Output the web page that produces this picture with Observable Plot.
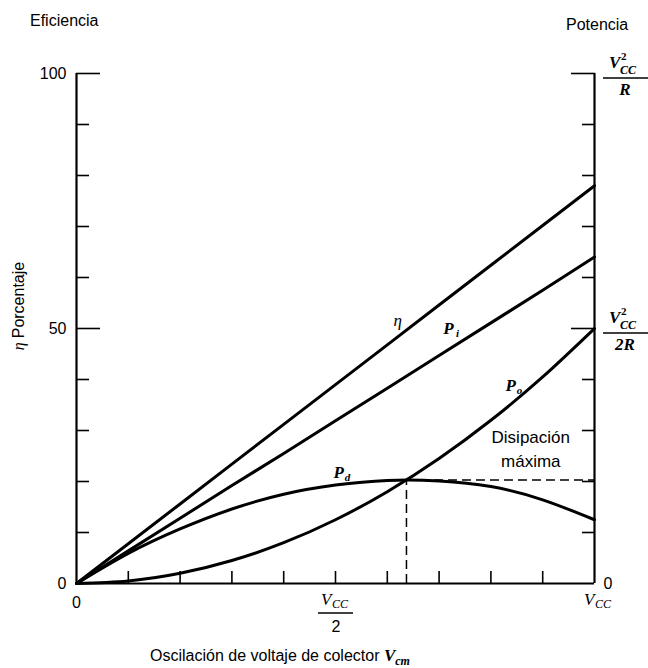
<!DOCTYPE html>
<html><head><meta charset="utf-8">
<script src="https://cdn.jsdelivr.net/npm/d3@7"></script>
<script src="https://cdn.jsdelivr.net/npm/@observablehq/plot@0.6"></script>
<style>body{margin:0;background:#fff}#chart{width:648px;height:668px}</style>
</head><body><div id="chart"></div>
<script>
// Fraction of Vcc swept on the x axis
const swing = [0, 0.1, 0.2, 0.3, 0.4, 0.5, 0.6, 0.7, 0.8, 0.9, 1.0];
// Values (percent of full scale)
const etaValues = [0, 7.8, 15.6, 23.4, 31.2, 39, 46.8, 54.6, 62.4, 70.2, 78];
const piValues  = [0, 6.4, 12.8, 19.2, 25.5, 31.9, 38.3, 44.7, 51.1, 57.5, 64];
const poValues  = [0, 0.5, 2, 4.5, 8, 12.5, 18, 24.5, 32, 40.5, 50];
const pdValues  = [0, 5.9, 10.7, 14.6, 17.5, 19.3, 20.2, 20.1, 19.0, 16.4, 12.5];
const maxDissipation = {x: 0.637, y: 20.3};
const yMinorTicks = [10, 20, 30, 40, 60, 70, 80, 90];
const yMajorTicks = [50, 100];
const xTicks = [0.1, 0.2, 0.3, 0.4, 0.5, 0.6, 0.7, 0.8, 0.9];
const leftTickLabels = [0, 50, 100];
const curveLabels = [
  {name: "η", sub: "", x: 0.62, y: 51.6, bold: false},
  {name: "P", sub: "i", x: 0.718, y: 50, bold: true},
  {name: "P", sub: "o", x: 0.838, y: 38.8, bold: true},
  {name: "P", sub: "d", x: 0.506, y: 21.8, bold: true}
];
const dissLabel = [{text: "Disipación\nmáxima", x: 0.877, y: 26.7}];

const series = (vals) => swing.map((x, i) => ({x, y: vals[i]}));
const SANS = "Liberation Sans, Arial, Helvetica, sans-serif";
const SERIF = "Liberation Serif, Times New Roman, serif";
const lw = 3;

const chart = Plot.plot({
  width: 648, height: 668,
  marginLeft: 76, marginRight: 54, marginTop: 73, marginBottom: 85,
  x: {domain: [0, 1], axis: null},
  y: {domain: [0, 100], axis: null},
  style: {fontFamily: SANS, fontSize: "16px", color: "#000", background: "#fff", overflow: "visible"},
  marks: [
    Plot.ruleX([0, 1], {y1: 0, y2: 100, strokeWidth: 2.2, stroke: "#000"}),
    Plot.ruleY([0], {x1: 0, x2: 1, strokeWidth: 2.2, stroke: "#000"}),
    Plot.axisY(yMinorTicks, {anchor: "left", label: null, tickSize: -13, tickFormat: () => "", strokeWidth: 1.6}),
    Plot.axisY(yMajorTicks, {anchor: "left", label: null, tickSize: -24, tickFormat: () => "", strokeWidth: 1.6}),
    Plot.axisY(yMinorTicks, {anchor: "right", label: null, tickSize: -13, tickFormat: () => "", strokeWidth: 1.6}),
    Plot.axisY(yMajorTicks, {anchor: "right", label: null, tickSize: -24, tickFormat: () => "", strokeWidth: 1.6}),
    Plot.axisX(xTicks, {anchor: "bottom", label: null, tickSize: -12, tickFormat: () => "", strokeWidth: 1.6}),
    Plot.axisY(leftTickLabels, {anchor: "left", label: null, tickSize: 0, tickPadding: 10, fontSize: 16}),
    Plot.text([0], {x: 1, y: 0, text: () => "0", textAnchor: "start", dx: 9, fontSize: 16}),
    Plot.text([0], {x: 0, y: 0, text: () => "0", dy: 19, fontSize: 16}),
    Plot.ruleX([maxDissipation], {x: "x", y1: 0, y2: "y", strokeDasharray: "9,5", strokeWidth: 1.5}),
    Plot.ruleY([maxDissipation], {y: "y", x1: "x", x2: 1, strokeDasharray: "9,5", strokeWidth: 1.5}),
    Plot.line(series(etaValues), {x: "x", y: "y", strokeWidth: lw}),
    Plot.line(series(piValues), {x: "x", y: "y", strokeWidth: lw}),
    Plot.line(series(poValues), {x: "x", y: "y", strokeWidth: lw, curve: "natural"}),
    Plot.line(series(pdValues), {x: "x", y: "y", strokeWidth: lw, curve: "natural"}),
    Plot.text(curveLabels.filter(d => !d.bold), {x: "x", y: "y", text: "name", fontFamily: SERIF, fontStyle: "italic", fontSize: 17}),
    Plot.text(curveLabels.filter(d => d.bold), {x: "x", y: "y", text: "name", fontFamily: SERIF, fontStyle: "italic", fontWeight: "bold", fontSize: 17}),
    Plot.text(curveLabels.filter(d => d.bold), {x: "x", y: "y", text: "sub", dx: 9, dy: 5, fontFamily: SERIF, fontStyle: "italic", fontWeight: "bold", fontSize: 11}),
    Plot.text(dissLabel, {x: "x", y: "y", text: "text", fontSize: 17, lineHeight: 1.4})
  ]
});
document.getElementById("chart").append(chart);

const sx = chart.scale("x"), sy = chart.scale("y");
const svg = d3.select(chart);
const g = svg.append("g");

function txt(x, y, s, opts = {}) {
  const t = g.append("text").attr("x", x).attr("y", y).text(s)
    .attr("font-family", opts.family || SANS)
    .attr("font-size", opts.size || 16)
    .attr("text-anchor", opts.anchor || "start")
    .attr("fill", "#000");
  if (opts.italic) t.attr("font-style", "italic");
  if (opts.bold) t.attr("font-weight", "bold");
  if (opts.rotate) t.attr("transform", `rotate(${opts.rotate},${x},${y})`);
  return t;
}
function bar(x1, x2, y) {
  g.append("line").attr("x1", x1).attr("x2", x2).attr("y1", y).attr("y2", y)
    .attr("stroke", "#000").attr("stroke-width", 1.3);
}
// V^2_CC over denominator
function vccFraction(cx, cy, den, bold) {
  const m = {family: SERIF, italic: true, bold};
  txt(cx - 16, cy - 5, "V", {...m, size: 17});
  txt(cx - 4, cy - 13, "2", {family: SERIF, bold, size: 11});
  txt(cx - 5, cy + 1, "CC", {...m, size: 12});
  bar(cx - 22, cx + 23, cy + 5);
  txt(cx, cy + 22, den, {...m, size: 17, anchor: "middle"});
}

// Top titles
txt(30, 26, "Eficiencia", {size: 16});
txt(566, 30, "Potencia", {size: 16});
// Right-hand fractions
vccFraction(sx.apply(1) + 31, sy.apply(100), "R", true);
vccFraction(sx.apply(1) + 31, sy.apply(50), "2R", true);
// Bottom tick labels
const xh = sx.apply(0.5), yb = sy.apply(0);
txt(xh - 14, yb + 22, "V", {family: SERIF, italic: true, size: 17});
txt(xh - 3, yb + 25, "CC", {family: SERIF, italic: true, size: 12});
bar(xh - 17, xh + 18, yb + 30);
txt(xh + 1, yb + 49, "2", {size: 16, anchor: "middle"});
const xr = sx.apply(1);
txt(xr - 10, yb + 22, "V", {family: SERIF, italic: true, size: 17});
txt(xr + 1, yb + 25, "CC", {family: SERIF, italic: true, size: 12});
// Axis titles
const xt = txt(280, 661, "Oscilación de voltaje de colector ", {size: 16, anchor: "middle"});
xt.append("tspan").text("V").attr("font-family", SERIF).attr("font-style", "italic").attr("font-weight", "bold").attr("font-size", 17);
xt.append("tspan").text("cm").attr("font-family", SERIF).attr("font-style", "italic").attr("font-weight", "bold").attr("font-size", 12).attr("dy", 4);
const yt = txt(24, 306, "", {size: 16, anchor: "middle", rotate: -90});
yt.append("tspan").text("η ").attr("font-family", SERIF).attr("font-style", "italic");
yt.append("tspan").text("Porcentaje");
</script>
</body></html>
